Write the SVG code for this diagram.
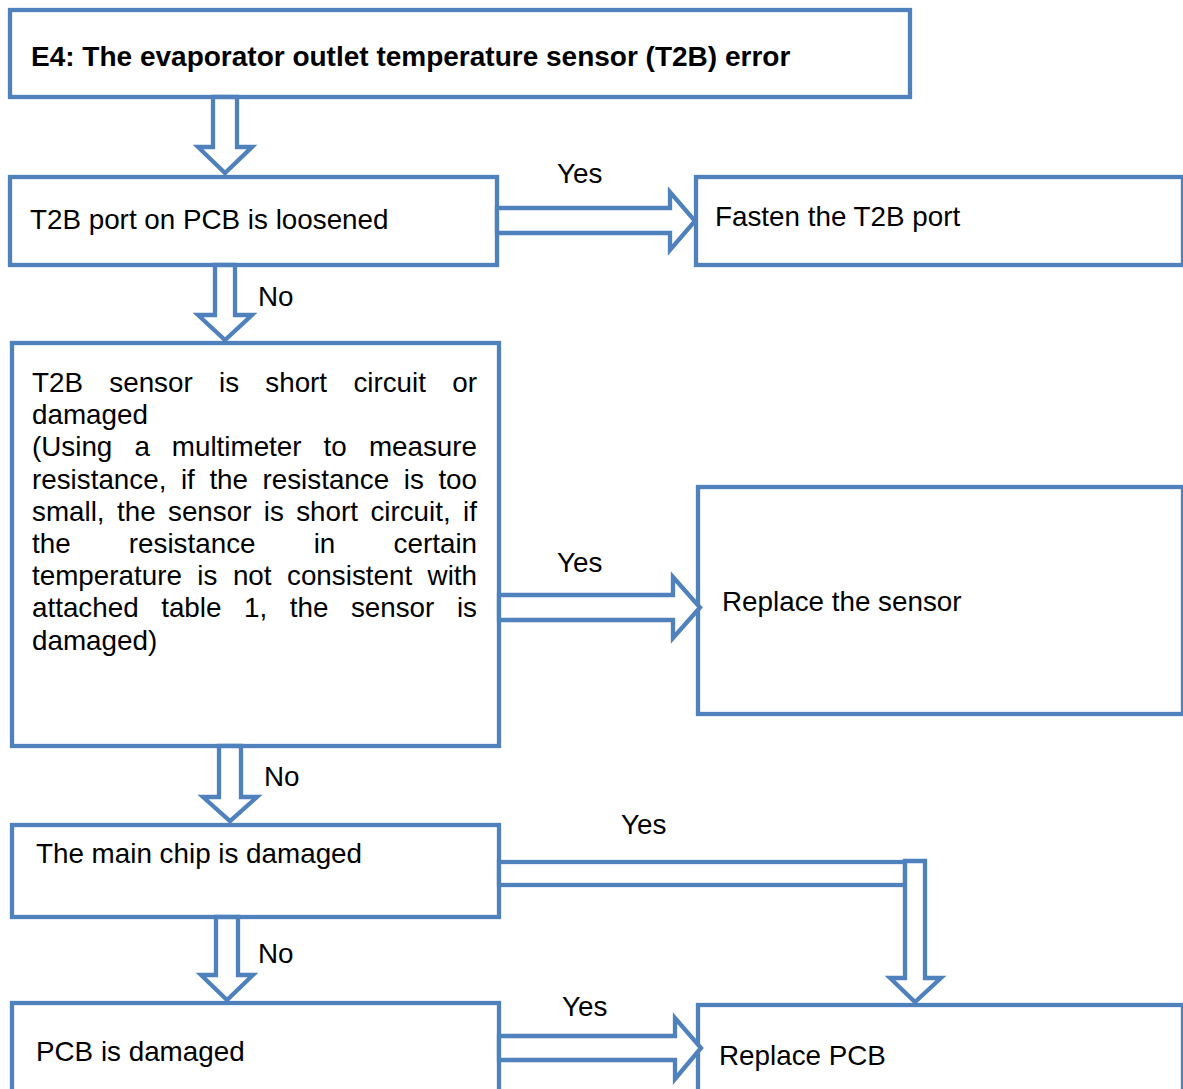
<svg xmlns="http://www.w3.org/2000/svg" width="1183" height="1089" viewBox="0 0 1183 1089">
<style>
.box{fill:#ffffff;stroke:#4f81bd;stroke-width:4.3}
.arr{fill:#ffffff;stroke:#4f81bd;stroke-width:4.3;stroke-linejoin:miter}
text{font-family:"Liberation Sans",Arial,sans-serif;font-size:27.8px;fill:#000000}
.b{font-weight:bold;font-size:28px}
</style>
<rect x="0" y="0" width="1183" height="1089" fill="#ffffff"/>
<g id="n1"><rect class="box" x="10" y="10" width="900" height="87"/><text class="b" x="31" y="66">E4: The evaporator outlet temperature sensor (T2B) error</text></g>
<g id="n2"><rect class="box" x="10" y="177" width="487" height="88"/><text x="30" y="229">T2B port on PCB is loosened</text></g>
<g id="n3"><rect class="box" x="696" y="177" width="487" height="88"/><text x="715" y="226">Fasten the T2B port</text></g>
<g id="n4"><rect class="box" x="12" y="343" width="487" height="403"/>
<text y="392"><tspan x="32">T2B</tspan><tspan x="109.3">sensor</tspan><tspan x="219">is</tspan><tspan x="265.3">short</tspan><tspan x="353.4">circuit</tspan><tspan x="452.3">or</tspan></text>
<text y="424.2"><tspan x="32">damaged</tspan></text>
<text y="456.4"><tspan x="32">(Using</tspan><tspan x="134.4">a</tspan><tspan x="171.8">multimeter</tspan><tspan x="323.6">to</tspan><tspan x="368.9">measure</tspan></text>
<text y="488.6"><tspan x="32">resistance,</tspan><tspan x="180.9">if</tspan><tspan x="209.4">the</tspan><tspan x="262.5">resistance</tspan><tspan x="403.8">is</tspan><tspan x="438.4">too</tspan></text>
<text y="520.8"><tspan x="32">small,</tspan><tspan x="117">the</tspan><tspan x="168">sensor</tspan><tspan x="263.8">is</tspan><tspan x="296.2">short</tspan><tspan x="370.4">circuit,</tspan><tspan x="463.1">if</tspan></text>
<text y="553"><tspan x="32">the</tspan><tspan x="128.8">resistance</tspan><tspan x="313.7">in</tspan><tspan x="393.6">certain</tspan></text>
<text y="585.2"><tspan x="32">temperature</tspan><tspan x="197.3">is</tspan><tspan x="232.9">not</tspan><tspan x="287">consistent</tspan><tspan x="427.6">with</tspan></text>
<text y="617.4"><tspan x="32">attached</tspan><tspan x="161.2">table</tspan><tspan x="244">1,</tspan><tspan x="289.8">the</tspan><tspan x="350.9">sensor</tspan><tspan x="456.9">is</tspan></text>
<text y="649.6"><tspan x="32">damaged)</tspan></text>
</g>
<g id="n5"><rect class="box" x="698" y="487" width="485" height="227"/><text x="722" y="611">Replace the sensor</text></g>
<g id="n6"><rect class="box" x="12" y="825" width="487" height="92"/><text x="36" y="863">The main chip is damaged</text></g>
<g id="n7"><rect class="box" x="698" y="1005" width="485" height="100"/><text x="719" y="1065">Replace PCB</text></g>
<g id="n8"><rect class="box" x="12" y="1003" width="487" height="100"/><text x="36" y="1061">PCB is damaged</text></g>
<g id="connectors">
<polygon class="arr" points="213,97 213,147 198,147 225,173 252,147 237,147 237,97"/>
<polygon class="arr" points="497,208 670,208 670,192 695,221 670,250 670,233 497,233"/>
<text x="557" y="183">Yes</text>
<polygon class="arr" points="215,265 215,315 198,315 225,340 252,315 235,315 235,265"/>
<text x="258" y="306">No</text>
<polygon class="arr" points="499,595 673,595 673,577 700,607.5 673,638 673,620 499,620"/>
<text x="557" y="572">Yes</text>
<polygon class="arr" points="219,746 219,797 203,797 230,821 257,797 241,797 241,746"/>
<text x="264" y="786">No</text>
<rect class="arr" x="499" y="862" width="406" height="23"/>
<polygon class="arr" points="905,861 905,978 890,978 915,1002 941,978 925,978 925,861"/>
<text x="621" y="834">Yes</text>
<polygon class="arr" points="216,917 216,975 201,975 227,1000 253,975 238,975 238,917"/>
<text x="258" y="963">No</text>
<polygon class="arr" points="499,1036 675,1036 675,1018 701,1048 675,1079 675,1060 499,1060"/>
<text x="562" y="1016">Yes</text>
</g>
</svg>
